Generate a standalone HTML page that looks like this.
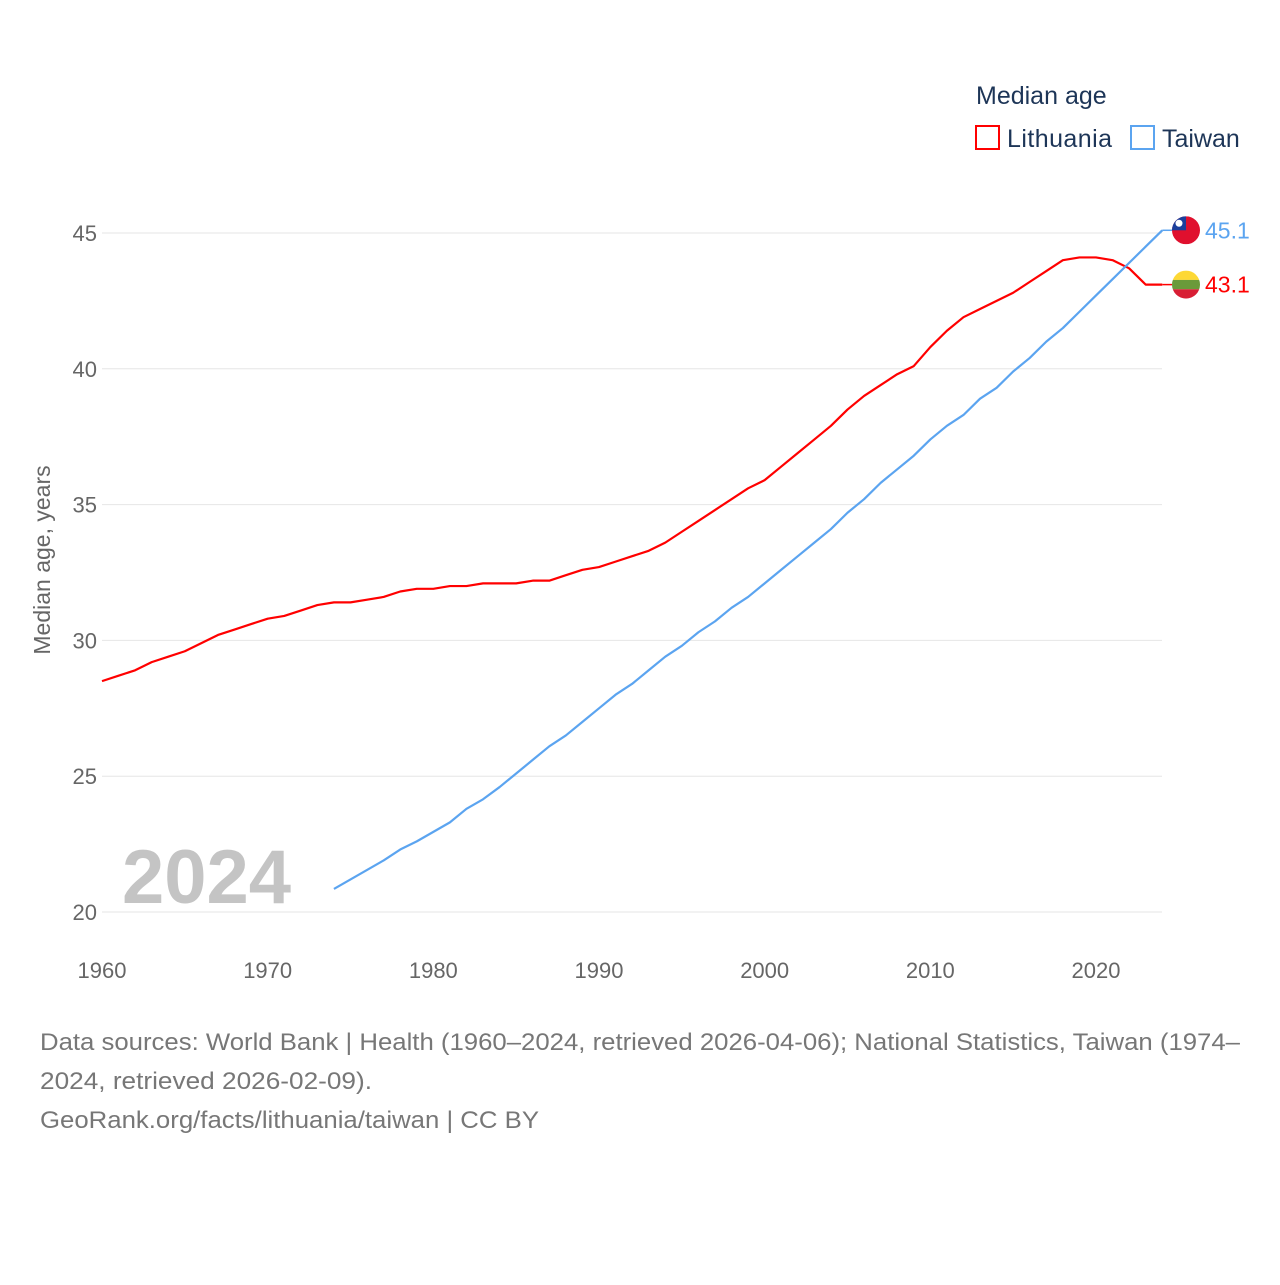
<!DOCTYPE html>
<html><head><meta charset="utf-8"><style>
body{margin:0;background:#fff;width:1280px;height:1280px;overflow:hidden;font-family:"Liberation Sans",sans-serif}
</style></head><body>
<svg width="1280" height="1280" style="font-family:'Liberation Sans',sans-serif">
<g id="grid"></g>
<g id="series"></g>
<text x="122" y="903" font-size="76" font-weight="bold" fill="#c4c4c4">2024</text>
<text transform="translate(50,560) rotate(-90)" text-anchor="middle" font-size="23" fill="#666">Median age, years</text>
<text x="976" y="104" font-size="25" fill="#1d3557">Median age</text>
<rect x="976" y="126" width="23" height="23" fill="none" stroke="#f00" stroke-width="2"/>
<text x="1007" y="147" font-size="25" fill="#1d3557" textLength="105">Lithuania</text>
<rect x="1131" y="126" width="23" height="23" fill="none" stroke="#5ba4f0" stroke-width="2"/>
<text x="1162" y="147" font-size="25" fill="#1d3557">Taiwan</text>
<text font-size="24" fill="#777"><tspan x="40" y="1050" textLength="1200" lengthAdjust="spacingAndGlyphs">Data sources: World Bank | Health (1960–2024, retrieved 2026-04-06); National Statistics, Taiwan (1974–</tspan><tspan x="40" y="1089" textLength="332" lengthAdjust="spacingAndGlyphs">2024, retrieved 2026-02-09).</tspan><tspan x="40" y="1128" textLength="499" lengthAdjust="spacingAndGlyphs">GeoRank.org/facts/lithuania/taiwan | CC BY</tspan></text>
</svg>
<script>
const yTicks=[20,25,30,35,40,45];
const xTicks=[1960,1970,1980,1990,2000,2010,2020];
const ltYears=[1960,1961,1962,1963,1964,1965,1966,1967,1968,1969,1970,1971,1972,1973,1974,1975,1976,1977,1978,1979,1980,1981,1982,1983,1984,1985,1986,1987,1988,1989,1990,1991,1992,1993,1994,1995,1996,1997,1998,1999,2000,2001,2002,2003,2004,2005,2006,2007,2008,2009,2010,2011,2012,2013,2014,2015,2016,2017,2018,2019,2020,2021,2022,2023,2024];
const ltValues=[28.5,28.7,28.9,29.2,29.4,29.6,29.9,30.2,30.4,30.6,30.8,30.9,31.1,31.3,31.4,31.4,31.5,31.6,31.8,31.9,31.9,32.0,32.0,32.1,32.1,32.1,32.2,32.2,32.4,32.6,32.7,32.9,33.1,33.3,33.6,34.0,34.4,34.8,35.2,35.6,35.9,36.4,36.9,37.4,37.9,38.5,39.0,39.4,39.8,40.1,40.8,41.4,41.9,42.2,42.5,42.8,43.2,43.6,44.0,44.1,44.1,44.0,43.7,43.1,43.1];
const twYears=[1974,1975,1976,1977,1978,1979,1980,1981,1982,1983,1984,1985,1986,1987,1988,1989,1990,1991,1992,1993,1994,1995,1996,1997,1998,1999,2000,2001,2002,2003,2004,2005,2006,2007,2008,2009,2010,2011,2012,2013,2014,2015,2016,2017,2018,2019,2020,2021,2022,2023,2024];
const twValues=[20.85,21.2,21.55,21.9,22.3,22.6,22.95,23.3,23.8,24.15,24.6,25.1,25.6,26.1,26.5,27.0,27.5,28.0,28.4,28.9,29.4,29.8,30.3,30.7,31.2,31.6,32.1,32.6,33.1,33.6,34.1,34.7,35.2,35.8,36.3,36.8,37.4,37.9,38.3,38.9,39.3,39.9,40.4,41.0,41.5,42.1,42.7,43.3,43.9,44.5,45.1];
const NS='http://www.w3.org/2000/svg';
const X=y=>102+(y-1960)*(1096-102)/60;
const Y=v=>912-(v-20)*(912-233)/25;
function mk(t,a){const e=document.createElementNS(NS,t);for(const k in a)e.setAttribute(k,a[k]);return e;}
const grid=document.getElementById('grid');
yTicks.forEach(v=>{
 const l=mk('line',{x1:102,x2:1162,y1:Y(v),y2:Y(v),stroke:'#e6e6e6','stroke-width':1});
 
 
 grid.appendChild(l);
 const t=mk('text',{x:97,y:Y(v)+8,'text-anchor':'end','font-size':22,fill:'#666'});
 
 
 t.textContent=v;grid.appendChild(t);
});
xTicks.forEach(v=>{
 const t=mk('text',{x:X(v),y:978,'text-anchor':'middle','font-size':22,fill:'#666'});
 
 
 t.textContent=v;grid.appendChild(t);
});
const s=document.getElementById('series');
function line(xs,vs,c,name){
 const p=mk('polyline',{points:xs.map((x,i)=>X(x)+','+Y(vs[i])).join(' '),fill:'none',stroke:c,'stroke-width':2.2,'stroke-linejoin':'round'});
 
 
 s.appendChild(p);
}
line(ltYears,ltValues,'#f00','line-lithuania');
line(twYears,twValues,'#5ba4f0','line-taiwan');
function endLabel(v,c,name,flag){
 const y=Y(v);
 const ln=mk('line',{x1:X(2024),x2:1172,y1:y,y2:y,stroke:c,'stroke-width':1.5});
 s.appendChild(ln);
 const g=mk('g',{});
 
 
 const cx=1186,r=14;
 const clip=mk('clipPath',{id:'cp-'+name});clip.appendChild(mk('circle',{cx:cx,cy:y,r:r}));g.appendChild(clip);
 const inner=mk('g',{'clip-path':'url(#cp-'+name+')'});
 if(flag==='lt'){
  inner.appendChild(mk('rect',{x:cx-r,y:y-r,width:2*r,height:2*r/3,fill:'#fdd835'}));
  inner.appendChild(mk('rect',{x:cx-r,y:y-r/3,width:2*r,height:2*r/3,fill:'#6a9a3a'}));
  inner.appendChild(mk('rect',{x:cx-r,y:y+r/3,width:2*r,height:2*r/3,fill:'#d81e34'}));
 }else{
  inner.appendChild(mk('rect',{x:cx-r,y:y-r,width:2*r,height:2*r,fill:'#e0102e'}));
  inner.appendChild(mk('rect',{x:cx-r,y:y-r,width:r,height:r,fill:'#1c3f9c'}));
  inner.appendChild(mk('circle',{cx:cx-r/2,cy:y-r/2,r:3.5,fill:'#fff'}));
 }
 g.appendChild(inner);s.appendChild(g);
 const t=mk('text',{x:1205,y:y+8,'font-size':23,fill:c});
 
 
 t.textContent=v.toFixed(1);s.appendChild(t);
}
endLabel(twValues[twValues.length-1],'#5ba4f0','taiwan','tw');
endLabel(ltValues[ltValues.length-1],'#f00','lithuania','lt');
</script>
</body></html>
